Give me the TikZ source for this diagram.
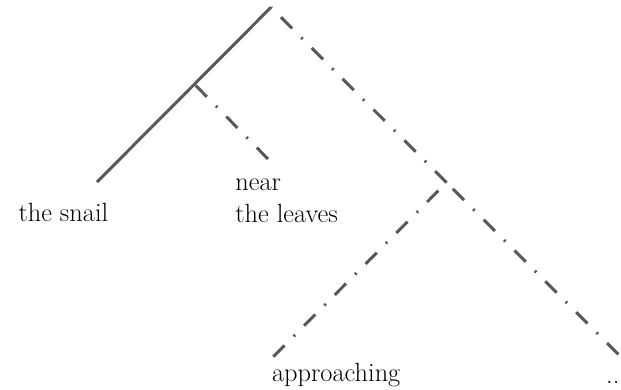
\documentclass[tikz,border=0pt]{standalone}
\usepackage{xcolor}
\definecolor{treegray}{RGB}{88,88,88}
\usepackage{tikz}
\usetikzlibrary{calc}

\begin{document}
\begin{tikzpicture}[
    solidedge/.style={draw=treegray, line width=1.7pt},
    dotedge/.style={draw=treegray, line width=1.7pt, dash pattern=on 9.07pt off 7.31pt on 1.13pt off 7.31pt},
    leaf/.style={font=\fontsize{15}{18.2}\selectfont, inner sep=0pt, anchor=base}
  ]
  \useasboundingbox (0,0) rectangle (12.42,7.78);
  % branching points
  \coordinate (root) at (5.42,7.634);
  \coordinate (snailtop) at (1.94,4.14);
  \coordinate (nearjoin) at ($(root)!0.44!(snailtop)$);
  \coordinate (neartop) at (5.36,4.60);
  \coordinate (rjoin) at (8.93,4.13);
  \coordinate (apprtop) at (5.466,0.646);
  \coordinate (dotstop) at (12.366,0.694);
  % leaves
  \node[leaf] (snail) at (1.267,3.346) {the snail};
  \node[leaf, anchor=base west, align=left] (near) at (4.70,3.34) {near\\the leaves};
  \node[leaf] (appr) at (6.724,0.146) {approaching};
  \node[leaf] (dots) at (12.256,0.12) {..};
  % edges, drawn from the lower end up
  \draw[solidedge] (snailtop) -- (root);
  \draw[dotedge] (neartop) -- (nearjoin);
  \draw[dotedge] (rjoin) -- (root);
  \draw[dotedge] (apprtop) -- (rjoin);
  \draw[dotedge] (dotstop) -- (rjoin);
\end{tikzpicture}
\end{document}
